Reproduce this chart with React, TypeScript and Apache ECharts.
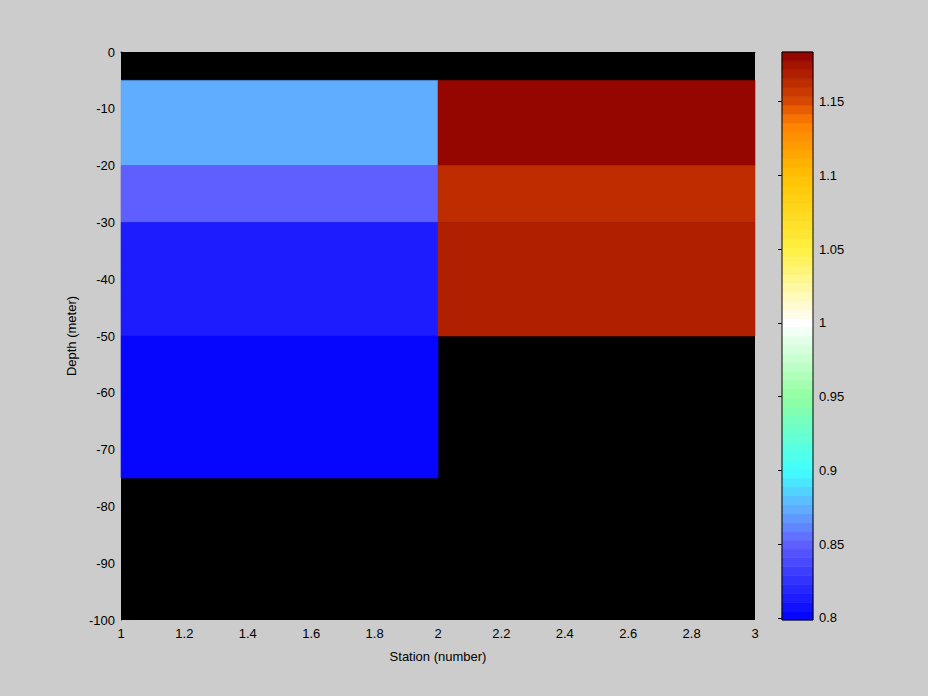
import React, { useEffect, useRef } from "react";
import * as echarts from "echarts";

// ---- data ----
const stationEdges = [1, 2, 3];
const depthEdges = [-5, -20, -30, -50, -75];
const station1Values = [0.876, 0.847, 0.812, 0.8]; // depth bands -5..-75
const station2Values = [1.181, 1.163, 1.17]; // depth bands -5..-50
const xTicks = [1, 1.2, 1.4, 1.6, 1.8, 2, 2.2, 2.4, 2.6, 2.8, 3];
const colorbarTicks = [0.8, 0.85, 0.9, 0.95, 1, 1.05, 1.1, 1.15];
const cMin = 0.7986;
const cMax = 1.1835;
const nColors = 64;
// colormap stops: value -> rgb
const cmapValues = [0.7986, 0.85, 0.875, 0.9, 0.95, 1.0, 1.05, 1.1, 1.135, 1.15, 1.1835];
const cmapColors = [
  [0, 0, 255],
  [96, 96, 255],
  [96, 176, 255],
  [64, 255, 255],
  [144, 255, 160],
  [255, 255, 255],
  [255, 240, 64],
  [255, 192, 0],
  [255, 128, 0],
  [216, 72, 0],
  [144, 0, 0],
];

function interpColor(v: number): string {
  if (v <= cmapValues[0]) return rgb(cmapColors[0]);
  for (let i = 1; i < cmapValues.length; i++) {
    if (v <= cmapValues[i]) {
      const t = (v - cmapValues[i - 1]) / (cmapValues[i] - cmapValues[i - 1]);
      const a = cmapColors[i - 1];
      const b = cmapColors[i];
      return rgb([a[0] + (b[0] - a[0]) * t, a[1] + (b[1] - a[1]) * t, a[2] + (b[2] - a[2]) * t]);
    }
  }
  return rgb(cmapColors[cmapColors.length - 1]);
}
function rgb(c: number[]) {
  return `rgb(${Math.round(c[0])},${Math.round(c[1])},${Math.round(c[2])})`;
}
function bandIndex(v: number) {
  const i = Math.floor(((v - cMin) / (cMax - cMin)) * nColors);
  return Math.max(0, Math.min(nColors - 1, i));
}
function bandCenter(i: number) {
  return cMin + ((i + 0.5) * (cMax - cMin)) / nColors;
}

export default function App() {
  const ref = useRef<HTMLDivElement>(null);
  useEffect(() => {
    if (!ref.current) return;
    const chart = echarts.init(ref.current, undefined, { renderer: "svg" });

    const cells: number[][] = [];
    station1Values.forEach((v, i) =>
      cells.push([stationEdges[0], stationEdges[1], depthEdges[i], depthEdges[i + 1], v])
    );
    station2Values.forEach((v, i) =>
      cells.push([stationEdges[1], stationEdges[2], depthEdges[i], depthEdges[i + 1], v])
    );

    const bands: number[][] = [];
    for (let i = 0; i < nColors; i++) {
      bands.push([
        0,
        1,
        cMin + (i * (cMax - cMin)) / nColors,
        cMin + ((i + 1) * (cMax - cMin)) / nColors,
        bandCenter(i),
      ]);
    }

    const font = "Liberation Sans";
    const rectItem = (params: any, api: any) => {
      const p0 = api.coord([api.value(0), api.value(3)]);
      const p1 = api.coord([api.value(1), api.value(2)]);
      const c = interpColor(bandCenter(bandIndex(api.value(4))));
      return {
        type: "rect",
        shape: {
          x: Math.min(p0[0], p1[0]),
          y: Math.min(p0[1], p1[1]),
          width: Math.abs(p1[0] - p0[0]),
          height: Math.abs(p1[1] - p0[1]),
        },
        style: { fill: c, stroke: c, lineWidth: 0.6 },
      };
    };

    chart.setOption({
      animation: false,
      backgroundColor: "#cccccc",
      grid: [
        { left: 121, top: 52, width: 634, height: 568, show: true, backgroundColor: "#000000", borderWidth: 0 },
        { left: 782, top: 52, width: 31, height: 568, show: true, backgroundColor: "transparent", borderColor: "#000", borderWidth: 1, z: 5 },
      ],
      xAxis: [
        {
          type: "value",
          gridIndex: 0,
          min: 1,
          max: 3,
          interval: 0.2,
          name: "Station (number)",
          nameLocation: "middle",
          nameGap: 30,
          nameTextStyle: { color: "#000", fontFamily: font, fontSize: 13 },
          axisLine: { show: true, lineStyle: { color: "#000" } },
          axisTick: { show: false },
          splitLine: { show: false },
          axisLabel: {
            color: "#000",
            fontFamily: font,
            fontSize: 13,
            margin: 7,
            customValues: xTicks,
            formatter: (v: number) => String(+v.toFixed(2)),
          },
        },
        { type: "value", gridIndex: 1, min: 0, max: 1, show: false },
      ],
      yAxis: [
        {
          type: "value",
          gridIndex: 0,
          min: -100,
          max: 0,
          interval: 10,
          name: "Depth (meter)",
          nameLocation: "middle",
          nameGap: 43,
          nameTextStyle: { color: "#000", fontFamily: font, fontSize: 13 },
          axisLine: { show: true, lineStyle: { color: "#000" } },
          axisTick: { show: false },
          splitLine: { show: false },
          axisLabel: { color: "#000", fontFamily: font, fontSize: 13, margin: 6 },
        },
        {
          type: "value",
          gridIndex: 1,
          position: "right",
          min: cMin,
          max: cMax,
          axisLine: { show: false },
          splitLine: { show: false },
          axisTick: {
            show: true,
            inside: true,
            length: 4,
            lineStyle: { color: "#000" },
            customValues: colorbarTicks,
          },
          axisLabel: {
            color: "#000",
            fontFamily: font,
            fontSize: 13,
            margin: 6,
            customValues: colorbarTicks,
            formatter: (v: number) => String(+v.toFixed(2)),
          },
        },
        {
          type: "value",
          gridIndex: 1,
          position: "left",
          min: cMin,
          max: cMax,
          axisLine: { show: false },
          splitLine: { show: false },
          axisTick: {
            show: true,
            inside: true,
            length: 4,
            lineStyle: { color: "#000" },
            customValues: colorbarTicks,
          },
          axisLabel: { show: false },
        },
      ],
      series: [
        {
          type: "custom",
          xAxisIndex: 0,
          yAxisIndex: 0,
          data: cells,
          encode: { x: [0, 1], y: [2, 3] },
          renderItem: rectItem,
        },
        {
          type: "custom",
          xAxisIndex: 1,
          yAxisIndex: 1,
          data: bands,
          encode: { x: [0, 1], y: [2, 3] },
          renderItem: rectItem,
        },
      ],
    });
    return () => chart.dispose();
  }, []);
  return (
    <div
      ref={ref}
      style={{ position: "fixed", left: 0, top: 0, width: 928, height: 696 }}
    />
  );
}
